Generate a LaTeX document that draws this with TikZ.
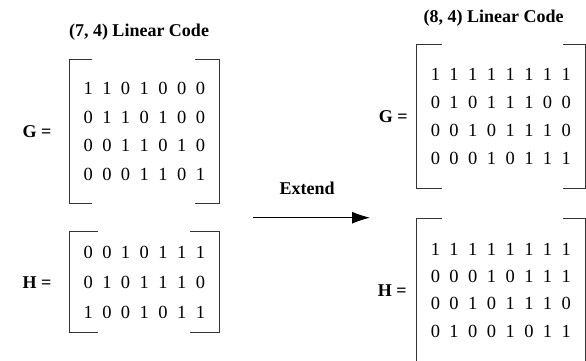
\documentclass[tikz,border=0pt]{standalone}
\usepackage{fontspec}
\setmainfont{Liberation Serif}
\usetikzlibrary{matrix, positioning, arrows.meta}

\begin{document}
\begin{tikzpicture}[
    x=1pt, y=-1pt,
    cell/.style={inner sep=0pt, minimum width=18.7pt, minimum height=27pt, text=black, font=\fontsize{18.5}{20}\selectfont},
    bits/.style={matrix of nodes, nodes={cell}, inner xsep=9.5pt},
    label/.style={inner sep=0pt, font=\fontsize{18}{20}\selectfont\bfseries},
    bracket/.style={draw=black!80, line width=1pt},
    arrow/.style={line width=0.9pt, -{Latex[length=18pt, width=12pt]}}
]
\useasboundingbox (0,0) rectangle (586,360);

% (7, 4) code
\node[label] (title74) at (139,31.7) {(7, 4) Linear Code};
\matrix[bits, inner ysep=15.45pt, row sep=1.7pt] (gLeft) at (144.3,131.3) {
1 & 1 & 0 & 1 & 0 & 0 & 0 \\
0 & 1 & 1 & 0 & 1 & 0 & 0 \\
0 & 0 & 1 & 1 & 0 & 1 & 0 \\
0 & 0 & 0 & 1 & 1 & 0 & 1 \\
};
\matrix[bits, inner ysep=7.3pt, row sep=2.7pt] (hLeft) at (144.3,282.2) {
0 & 0 & 1 & 0 & 1 & 1 & 1 \\
0 & 1 & 0 & 1 & 1 & 1 & 0 \\
1 & 0 & 0 & 1 & 0 & 1 & 1 \\
};
\node[label, left=17.6pt of gLeft] (gLeftLabel) {G =};
\node[label, left=17.6pt of hLeft] (hLeftLabel) {H =};

% (8, 4) code
\node[label] (title84) at (493.5,18.3) {(8, 4) Linear Code};
\matrix[bits, inner xsep=9.35pt, inner ysep=16pt, row sep=1.1pt] (gRight) at (500.85,116.7) {
1 & 1 & 1 & 1 & 1 & 1 & 1 & 1 \\
0 & 1 & 0 & 1 & 1 & 1 & 0 & 0 \\
0 & 0 & 1 & 0 & 1 & 1 & 1 & 0 \\
0 & 0 & 0 & 1 & 0 & 1 & 1 & 1 \\
};
\matrix[bits, inner xsep=9.35pt, inner ysep=17.55pt, row sep=0.2pt] (hRight) at (500.85,290.15) {
1 & 1 & 1 & 1 & 1 & 1 & 1 & 1 \\
0 & 0 & 0 & 1 & 0 & 1 & 1 & 1 \\
0 & 0 & 1 & 0 & 1 & 1 & 1 & 0 \\
0 & 1 & 0 & 0 & 1 & 0 & 1 & 1 \\
};
\node[label, left=8.6pt of gRight] (gRightLabel) {G =};
\node[label, left=9.6pt of hRight] (hRightLabel) {H =};

% Brackets
\draw[bracket] ([xshift=23pt]gLeft.north west) -- (gLeft.north west) -- (gLeft.south west) -- ([xshift=23pt]gLeft.south west);
\draw[bracket] ([xshift=-24pt]gLeft.north east) -- (gLeft.north east) -- (gLeft.south east) -- ([xshift=-24pt]gLeft.south east);
\draw[bracket] ([xshift=28.5pt]hLeft.north west) -- (hLeft.north west) -- (hLeft.south west) -- ([xshift=28.5pt]hLeft.south west);
\draw[bracket] ([xshift=-29pt]hLeft.north east) -- (hLeft.north east) -- (hLeft.south east) -- ([xshift=-29pt]hLeft.south east);
\draw[bracket] ([xshift=25pt]gRight.north west) -- (gRight.north west) -- (gRight.south west) -- ([xshift=25pt]gRight.south west);
\draw[bracket] ([xshift=-22pt]gRight.north east) -- (gRight.north east) -- (gRight.south east) -- ([xshift=-22pt]gRight.south east);
\draw[bracket] ([xshift=25pt]hRight.north west) -- (hRight.north west) -- (hRight.south west) -- ([xshift=25pt]hRight.south west);
\draw[bracket] ([xshift=-22pt]hRight.north east) -- (hRight.north east) -- (hRight.south east) -- ([xshift=-22pt]hRight.south east);

% Extend arrow
\coordinate (extendFrom) at (253.3,217.7);
\coordinate (extendTo) at (370,217.7);
\draw[arrow] (extendFrom) -- (extendTo);
\node[label] (extendLabel) at (307.2,188.3) {Extend};

\end{tikzpicture}
\end{document}
